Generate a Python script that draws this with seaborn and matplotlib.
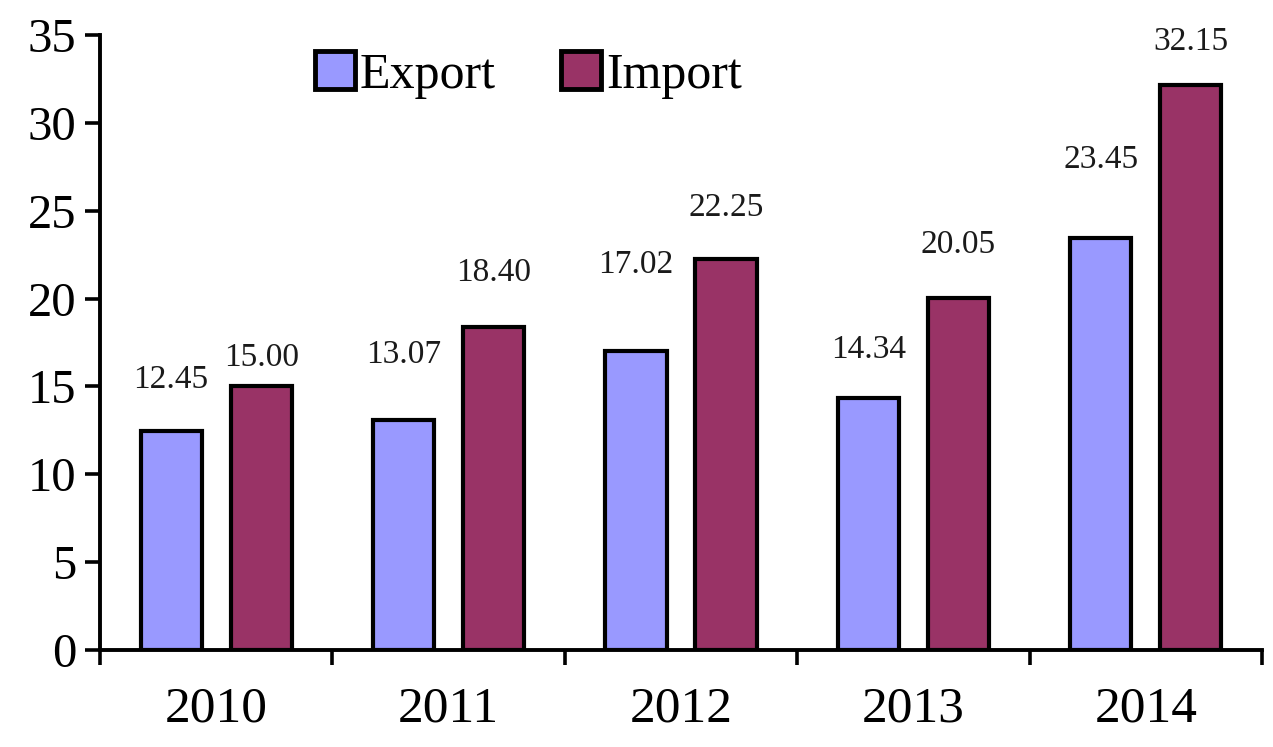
import matplotlib
matplotlib.use("Agg")
import matplotlib.pyplot as plt
import seaborn as sns
import pandas as pd
import numpy as np
from matplotlib.patches import Patch

years = ["2010", "2011", "2012", "2013", "2014"]
export_vals = [12.45, 13.07, 17.02, 14.34, 23.45]
import_vals = [15.00, 18.40, 22.25, 20.05, 32.15]
series = ["Export", "Import"]
colors = {"Export": "#9999FF", "Import": "#993366"}

# manual label offsets above bar tops (points), styling only
export_offsets = [37, 47, 62, 35, 56]
import_offsets = [21, 39, 37, 38, 31]

df = pd.DataFrame({
    "Year": years * 2,
    "Value": export_vals + import_vals,
    "Series": ["Export"] * len(years) + ["Import"] * len(years),
})

sns.set_theme(style="white")
plt.rcParams["font.family"] = ["Liberation Serif", "DejaVu Serif"]
plt.rcParams["text.color"] = "black"
plt.rcParams["xtick.color"] = "black"
plt.rcParams["ytick.color"] = "black"

fig = plt.figure(figsize=(12.73, 7.47), dpi=100)
ax = fig.add_axes([100 / 1273, (747 - 650) / 747, 1162 / 1273, 615 / 747])

sns.barplot(data=df, x="Year", y="Value", hue="Series", palette=colors,
            width=0.775, gap=0.32, edgecolor="black", linewidth=3.0,
            ax=ax, legend=False, saturation=1)

ax.set_ylim(0, 35)
ax.set_xlim(-0.5, len(years) - 0.5)
ax.set_yticks(np.arange(0, 36, 5))
ax.tick_params(axis="y", left=True, labelsize=35, length=11, width=2.6, pad=6,
               direction="out", colors="black")
ax.set_xticks(np.arange(-0.5, len(years), 1.0))
ax.set_xticklabels([])
ax.set_xticks(np.arange(len(years)), minor=True)
ax.set_xticklabels(years, minor=True)
ax.tick_params(axis="x", which="major", bottom=True, length=11, width=2.6,
               direction="out", colors="black")
ax.tick_params(axis="x", which="minor", bottom=True, length=0, labelsize=37, pad=26,
               colors="black")
ax.set_xlabel("")
ax.set_ylabel("")

for s in ["top", "right"]:
    ax.spines[s].set_visible(False)
for s in ["left", "bottom"]:
    ax.spines[s].set_linewidth(2.8)
    ax.spines[s].set_color("black")

# value labels
cont_exp, cont_imp = ax.containers[0], ax.containers[1]
for bars, vals, offs in [(cont_exp, export_vals, export_offsets), (cont_imp, import_vals, import_offsets)]:
    for bar, v, o in zip(bars, vals, offs):
        ax.annotate(f"{v:.2f}", (bar.get_x() + bar.get_width() / 2, bar.get_height()),
                    xytext=(0, o), textcoords="offset points", ha="center", va="center",
                    fontsize=24, color="#1a1a1a")

handles = [Patch(facecolor=colors[s], edgecolor="black", linewidth=3.5) for s in series]
ax.legend(handles, series, loc="center left", bbox_to_anchor=(0.185, 0.935), ncol=2,
          frameon=False, fontsize=36, handlelength=0.8, handleheight=0.8,
          handletextpad=0.1, columnspacing=1.3, borderaxespad=0, borderpad=0)

fig.savefig("out.png", dpi=100, facecolor="white")
